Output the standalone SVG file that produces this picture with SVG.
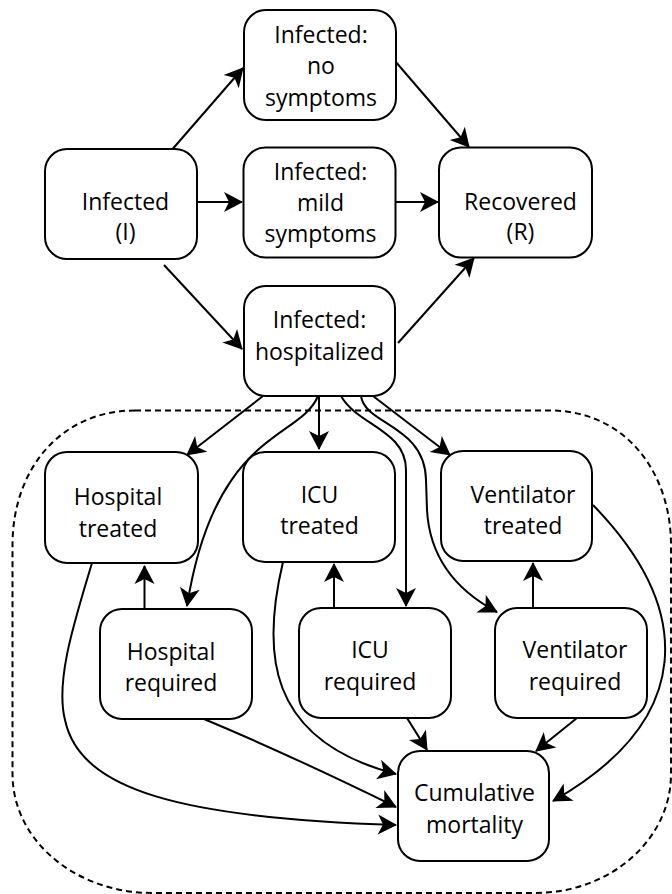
<svg xmlns="http://www.w3.org/2000/svg" width="672" height="894" viewBox="0 0 672 894">
<style>
.box{fill:#fff;stroke:#000;stroke-width:2}
.lbl{font-family:"Open Sans","Liberation Sans",sans-serif;font-size:23px;fill:#000;text-anchor:middle}
.edge{fill:none;stroke:#000;stroke-width:2;marker-end:url(#ah)}
.frame{fill:none;stroke:#000;stroke-width:2;stroke-dasharray:6 4}
</style>
<defs>
<marker id="ah" markerUnits="userSpaceOnUse" viewBox="-21 -11 22 22" refX="0" refY="0" markerWidth="22" markerHeight="22" orient="auto">
<path d="M1,0 L-18,-10 L-13,0 L-18,10 Z" fill="#000"/>
</marker>
</defs>
<path class="frame" d="M 135 410.5 L 550 410.5 C 625 410.5, 671 472, 671 545 L 671 774 C 671 840, 610 893, 535 893 L 152.5 893 C 75 893, 12.5 840, 12.5 774 L 12.5 545 C 12.5 470, 60 410.5, 135 410.5 Z"/>
<g id="connectors">
<path class="edge" d="M 170 152 L 243 68"/>
<path class="edge" d="M 198 202 L 242 202"/>
<path class="edge" d="M 164 265 L 242 349"/>
<path class="edge" d="M 395 61 L 469 147"/>
<path class="edge" d="M 396 202 L 438 202"/>
<path class="edge" d="M 398 343 L 474 258"/>
<path class="edge" d="M 263 396 L 187 455"/>
<path class="edge" d="M 319 396 L 319 449"/>
<path class="edge" d="M 318 396 C 300 440, 215 430, 187 606"/>
<path class="edge" d="M 341 396 C 357 425, 406 430, 406 470 L 406 606"/>
<path class="edge" d="M 361 396 C 365 425, 425 425, 426 480 L 427 510 C 430 565, 465 595, 497 612"/>
<path class="edge" d="M 373 396 L 450 455"/>
<path class="edge" d="M 144.5 609 L 144.5 566"/>
<path class="edge" d="M 334 608 L 334 564"/>
<path class="edge" d="M 533 608 L 533 563"/>
<path class="edge" d="M 92 563 C 75 620, 55 680, 65 720 C 80 790, 180 818, 396 825"/>
<path class="edge" d="M 204 719 Q 290 755, 396 807"/>
<path class="edge" d="M 283 562 C 262 650, 265 740, 396 774"/>
<path class="edge" d="M 407 718 L 427 750"/>
<path class="edge" d="M 577 718 L 536 751"/>
<path class="edge" d="M 593 505 C 695 610, 695 720, 553 801"/>
</g>
<g id="infected_no_symptoms">
<rect class="box" x="244" y="10" width="152" height="110" rx="22"/>
<text class="lbl" x="321" y="42.5">Infected:</text>
<text class="lbl" x="321" y="74">no</text>
<text class="lbl" x="321" y="105.5">symptoms</text>
</g>
<g id="infected">
<rect class="box" x="45" y="149" width="152" height="110" rx="22"/>
<text class="lbl" x="125.5" y="210">Infected</text>
<text class="lbl" x="125.5" y="240">(I)</text>
</g>
<g id="infected_mild">
<rect class="box" x="243.5" y="147.5" width="152" height="110" rx="22"/>
<text class="lbl" x="320.5" y="180">Infected:</text>
<text class="lbl" x="320.5" y="211">mild</text>
<text class="lbl" x="320.5" y="242">symptoms</text>
</g>
<g id="recovered">
<rect class="box" x="439" y="147.5" width="153" height="110" rx="22"/>
<text class="lbl" x="520.5" y="210">Recovered</text>
<text class="lbl" x="520.5" y="240">(R)</text>
</g>
<g id="infected_hospitalized">
<rect class="box" x="244" y="286" width="151" height="110" rx="22"/>
<text class="lbl" x="319.5" y="328">Infected:</text>
<text class="lbl" x="319.5" y="359.5">hospitalized</text>
</g>
<g id="hospital_treated">
<rect class="box" x="45" y="452" width="153" height="111" rx="22"/>
<text class="lbl" x="118" y="505">Hospital</text>
<text class="lbl" x="118" y="537">treated</text>
</g>
<g id="icu_treated">
<rect class="box" x="243" y="452" width="152" height="110" rx="22"/>
<text class="lbl" x="319.5" y="503">ICU</text>
<text class="lbl" x="319.5" y="534">treated</text>
</g>
<g id="ventilator_treated">
<rect class="box" x="441" y="451" width="151" height="110" rx="22"/>
<text class="lbl" x="523" y="503">Ventilator</text>
<text class="lbl" x="523" y="534">treated</text>
</g>
<g id="hospital_required">
<rect class="box" x="100" y="609" width="152" height="110" rx="22"/>
<text class="lbl" x="171" y="660">Hospital</text>
<text class="lbl" x="171" y="691">required</text>
</g>
<g id="icu_required">
<rect class="box" x="299" y="608" width="152" height="110" rx="22"/>
<text class="lbl" x="370" y="658">ICU</text>
<text class="lbl" x="370" y="690">required</text>
</g>
<g id="ventilator_required">
<rect class="box" x="495" y="608" width="152" height="110" rx="22"/>
<text class="lbl" x="575" y="658">Ventilator</text>
<text class="lbl" x="575" y="690">required</text>
</g>
<g id="cumulative_mortality">
<rect class="box" x="398" y="751" width="151" height="110" rx="22"/>
<text class="lbl" x="474.5" y="801">Cumulative</text>
<text class="lbl" x="474.5" y="833">mortality</text>
</g>
</svg>
